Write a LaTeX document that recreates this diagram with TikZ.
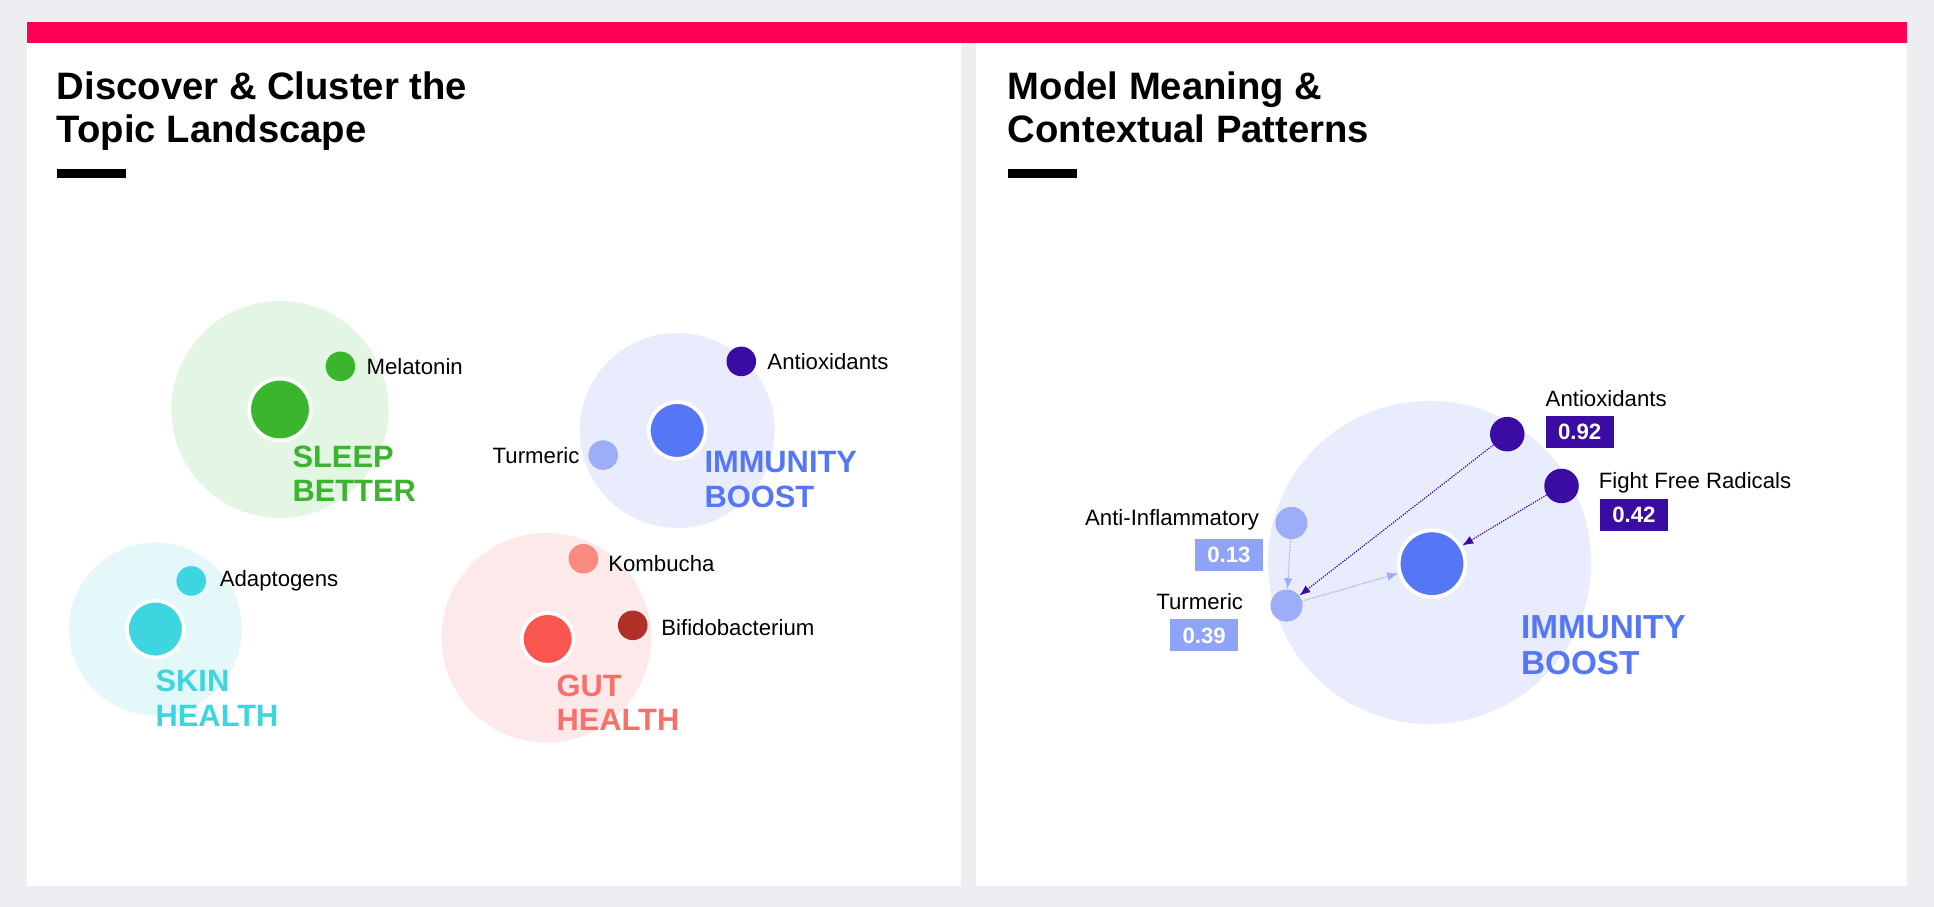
\documentclass[tikz,border=0pt]{standalone}
\usepackage{fontspec}
\setmainfont{Liberation Sans}
\usetikzlibrary{arrows.meta}
\definecolor{bg}{HTML}{EEEEF2}
\definecolor{redbar}{HTML}{FF0055}
\definecolor{divc}{HTML}{EEEEEE}
\definecolor{gA}{HTML}{3BB52E}\definecolor{gL}{HTML}{E3F5E3}
\definecolor{bA}{HTML}{5577F5}\definecolor{bL}{HTML}{E9ECFD}\definecolor{bM}{HTML}{9DADF8}\definecolor{bBox}{HTML}{8FA3F7}
\definecolor{pA}{HTML}{3A0CA3}
\definecolor{cA}{HTML}{3DD6E0}\definecolor{cL}{HTML}{E4F8FA}
\definecolor{rA}{HTML}{F8564E}\definecolor{rL}{HTML}{FDE9E9}\definecolor{rM}{HTML}{F88A80}\definecolor{rD}{HTML}{B03028}
\tikzset{
 halo/.style={circle,inner sep=0pt,draw=none},
 hub/.style={circle,inner sep=0pt,draw=white,line width=3pt},
 dot/.style={circle,inner sep=0pt,minimum size=24pt},
 lbl/.style={font=\fontsize{18}{20}\selectfont,inner sep=0pt},
 ttl/.style={font=\fontsize{31}{35}\selectfont\bfseries,align=left,anchor=north west,inner sep=0pt},
 clab/.style={font=\fontsize{25}{28}\selectfont\bfseries,align=left,anchor=north west,inner sep=0pt},
 val/.style={font=\fontsize{18}{20}\selectfont\bfseries,text=white,minimum width=55pt,minimum height=26pt,inner sep=0pt},
 dk/.style={draw=pA,densely dotted,line width=1pt,-{Latex[length=9pt,width=7pt]}},
 lt/.style={draw=bM,densely dotted,line width=1pt,-{Latex[length=9pt,width=7pt]}},
}
\begin{document}
\begin{tikzpicture}[x=1pt,y=-1pt]
\useasboundingbox (0,0) rectangle (1568,735);
\fill[bg] (0,0) rectangle (1568,735);
\fill[white] (22,18) rectangle (1546,718);
\fill[redbar] (22,18) rectangle (1546,35);
\fill[divc] (779,35) rectangle (791,718);
% titles
\node[ttl] (t1) at (46,58) {Discover \& Cluster the\\Topic Landscape};
\fill (46,137) rectangle (102,144);
\node[ttl] (t2) at (817,58) {Model Meaning \&\\Contextual Patterns};
\fill (817,137) rectangle (873,144);
% sleep
\node[halo,fill=gL,minimum size=176pt] (sh) at (227,332) {};
\node[hub,fill=gA,minimum size=50pt] (sc) at (227,332) {};
\node[dot,fill=gA] (mel) at (276,297) {};
\node[lbl,anchor=west] (meltx) at (297,297) {Melatonin};
\node[clab,text=gA] (sl) at (237,361) {SLEEP\\BETTER};
% immunity left
\node[halo,fill=bL,minimum size=158pt] (ih) at (549,349) {};
\node[hub,fill=bA,minimum size=46pt] (ic) at (549,349) {};
\node[dot,fill=pA] (ant) at (601,293) {};
\node[lbl,anchor=west] (anttx) at (622,293) {Antioxidants};
\node[dot,fill=bM] (tur) at (489,369) {};
\node[lbl,anchor=east] (turtx) at (470,369) {Turmeric};
\node[clab,text=bA] (il) at (571,366) {IMMUNITY\\BOOST};
% skin
\node[halo,fill=cL,minimum size=140pt] (kh) at (126,510) {};
\node[hub,fill=cA,minimum size=46pt] (kc) at (126,510) {};
\node[dot,fill=cA] (ada) at (155,471) {};
\node[lbl,anchor=west] (adatx) at (178,471) {Adaptogens};
\node[clab,text=cA] (kl) at (126,543) {SKIN\\HEALTH};
% gut
\node[halo,fill=rL,minimum size=170pt] (gh) at (443,517) {};
\node[hub,fill=rA,minimum size=42pt] (gc) at (444,518) {};
\node[dot,fill=rM] (kom) at (473,453) {};
\node[lbl,anchor=west] (komtx) at (493,457) {Kombucha};
\node[dot,fill=rD] (bif) at (513,507) {};
\node[lbl,anchor=west] (biftx) at (536,509) {Bifidobacterium};
\node[clab,text=rA!85!white] (gl) at (451,547) {GUT\\HEALTH};
% right panel
\node[halo,fill=bL,minimum size=262pt] (Rh) at (1159,456) {};
\node[hub,fill=bA,minimum size=54pt] (Rc) at (1161,457) {};
\node[dot,fill=pA,minimum size=28pt] (Ra) at (1222,352) {};
\node[lbl,anchor=west] (Ratx) at (1253,323) {Antioxidants};
\node[val,fill=pA,anchor=north west] (Rav) at (1253,337) {0.92};
\node[dot,fill=pA,minimum size=28pt] (Rf) at (1266,394) {};
\node[lbl,anchor=west] (Rftx) at (1296,391) {Fight Free Radicals};
\node[val,fill=pA,anchor=north west] (Rfv) at (1297,404) {0.42};
\node[dot,fill=bM,minimum size=26pt] (Ri) at (1047,424) {};
\node[lbl,anchor=east] (Ritx) at (1021,421) {Anti-Inflammatory};
\node[val,fill=bBox,anchor=north east] (Riv) at (1024,437) {0.13};
\node[dot,fill=bM,minimum size=26pt] (Rt) at (1043,491) {};
\node[lbl,anchor=east] (Rttx) at (1008,488) {Turmeric};
\node[val,fill=bBox,anchor=north east] (Rtv) at (1004,502) {0.39};
\node[clab,text=bA,font=\fontsize{27}{29}\selectfont\bfseries] (Rl) at (1233,499) {IMMUNITY\\BOOST};
\draw[dk] (Ra) -- (Rt);
\draw[dk] (Rf) -- (Rc);
\draw[lt] (Ri) -- (Rt);
\draw[lt] (Rt) -- (Rc);
\end{tikzpicture}
\end{document}
